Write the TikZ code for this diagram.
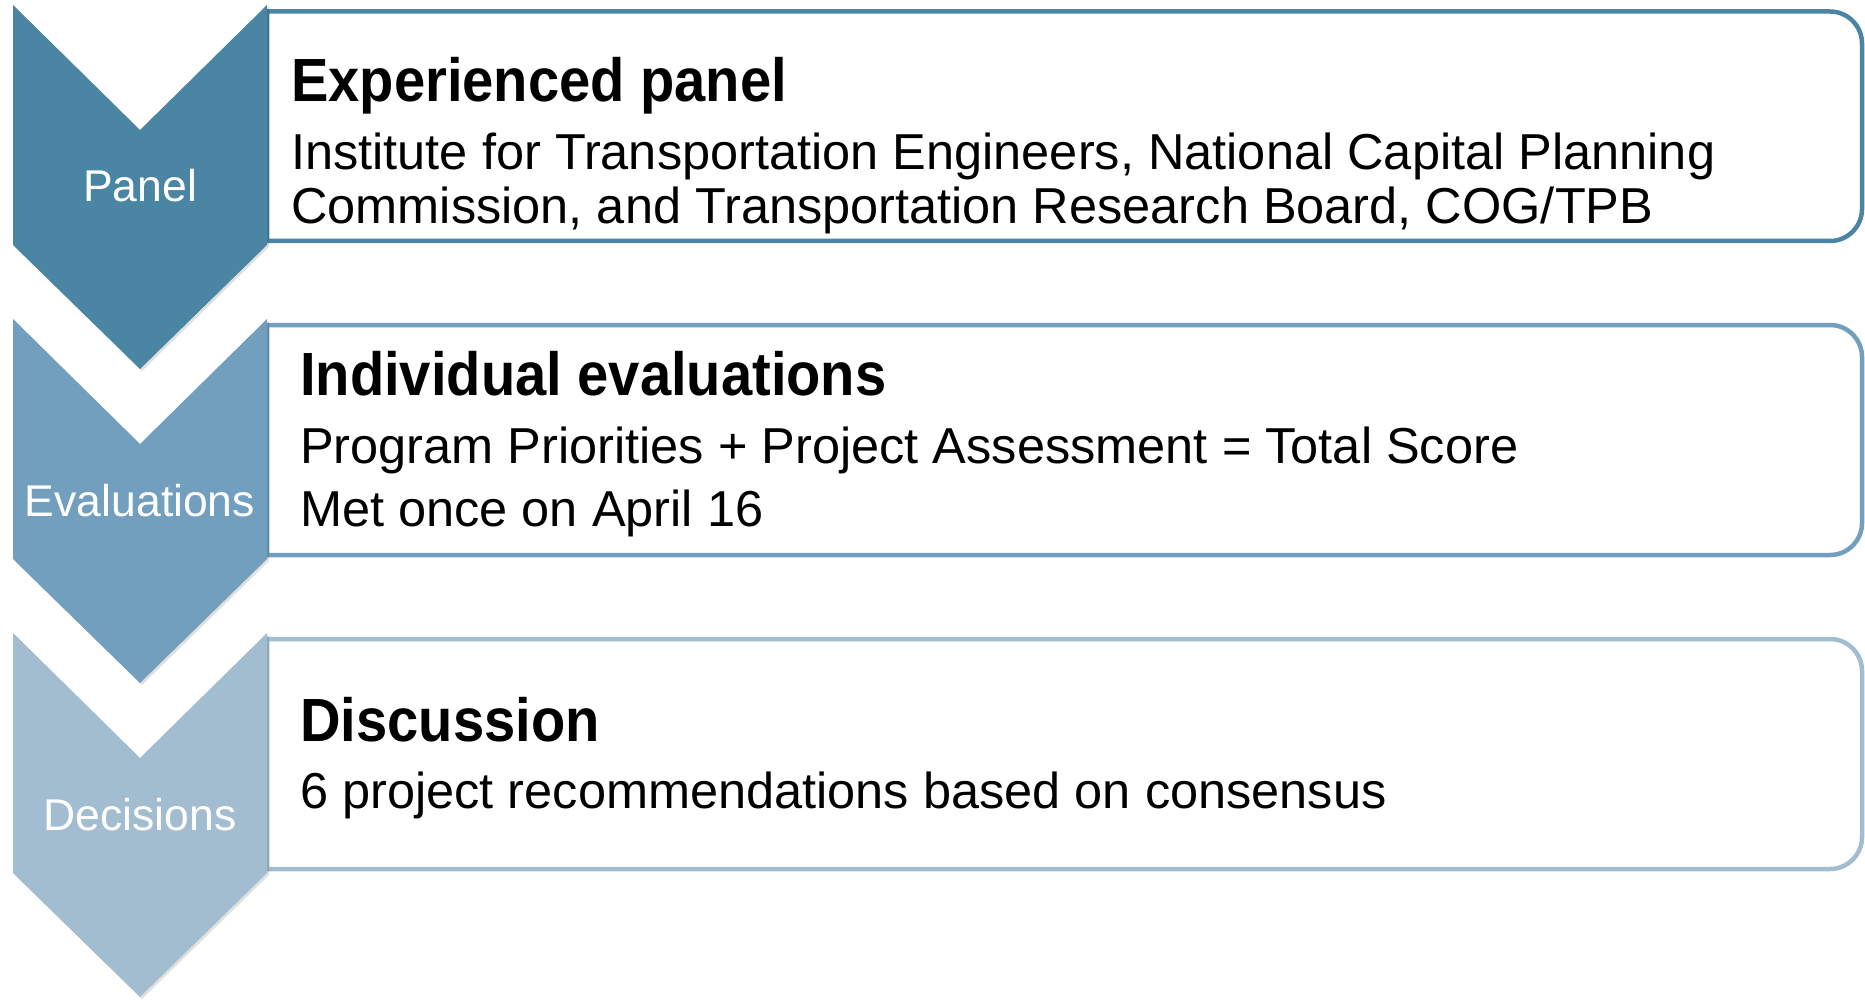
\documentclass[tikz,border=0pt]{standalone}
\usepackage{fontspec}
\setmainfont{Liberation Sans}
\newfontfamily\headfont{Liberation Sans}[FakeStretch=0.92]
\definecolor{cA}{RGB}{74,133,164}
\definecolor{cB}{RGB}{114,159,190}
\definecolor{cC}{RGB}{162,188,208}
\tikzset{
  heading/.style={anchor=base west, inner sep=0pt, font=\headfont\bfseries\fontsize{61}{61}\selectfont},
  bodytext/.style={anchor=base west, inner sep=0pt, font=\fontsize{50.5}{50.5}\selectfont},
  steplabel/.style={anchor=base, inner sep=0pt, text=white, font=\fontsize{44.5}{44.5}\selectfont},
  boxline/.style={line width=4.5pt, fill=white},
  chevshadow/.style={fill=black, opacity=0.12}
}
\begin{document}
\begin{tikzpicture}[x=1pt,y=-1pt]
\useasboundingbox (0,0) rectangle (1865,1000);
% ---------- step 1
\draw[boxline, draw=cA] (267,11.5) -- (1830,11.5) arc[start angle=-90,end angle=0,radius=32] -- (1862,209) arc[start angle=0,end angle=90,radius=32] -- (267,241) -- cycle;
\fill[chevshadow] (15,7) -- (142,132) -- (269,7) -- (269,247) -- (142,371) -- (15,247) -- cycle;
\fill[cA] (13,5) -- (140,130) -- (267,5) -- (267,245) -- (140,369) -- (13,245) -- cycle;
\node[steplabel] (l1) at (140,202) {Panel};
\node[heading] (h1) at (291,102) {Experienced panel};
\node[bodytext] (b1a) at (291,170) {Institute for Transportation Engineers, National Capital Planning};
\node[bodytext] (b1b) at (291,224) {Commission, and Transportation Research Board, COG/TPB};
% ---------- step 2
\draw[boxline, draw=cB] (267,325) -- (1830,325) arc[start angle=-90,end angle=0,radius=32] -- (1862,523) arc[start angle=0,end angle=90,radius=32] -- (267,555) -- cycle;
\fill[chevshadow] (15,321) -- (142,446) -- (269,321) -- (269,561) -- (142,685) -- (15,561) -- cycle;
\fill[cB] (13,319) -- (140,444) -- (267,319) -- (267,559) -- (140,683) -- (13,559) -- cycle;
\node[steplabel] (l2) at (140,516) {Evaluations};
\node[heading] (h2) at (300,395) {Individual evaluations};
\node[bodytext] (b2a) at (300,463) {Program Priorities + Project Assessment = Total Score};
\node[bodytext] (b2b) at (300,526) {Met once on April 16};
% ---------- step 3
\draw[boxline, draw=cC] (267,639) -- (1830,639) arc[start angle=-90,end angle=0,radius=32] -- (1862,837) arc[start angle=0,end angle=90,radius=32] -- (267,869) -- cycle;
\fill[chevshadow] (15,635) -- (142,760) -- (269,635) -- (269,875) -- (142,999) -- (15,875) -- cycle;
\fill[cC] (13,633) -- (140,758) -- (267,633) -- (267,873) -- (140,997) -- (13,873) -- cycle;
\node[steplabel] (l3) at (140,830) {Decisions};
\node[heading] (h3) at (300,741) {Discussion};
\node[bodytext] (b3a) at (300,808) {6 project recommendations based on consensus};
\end{tikzpicture}
\end{document}
